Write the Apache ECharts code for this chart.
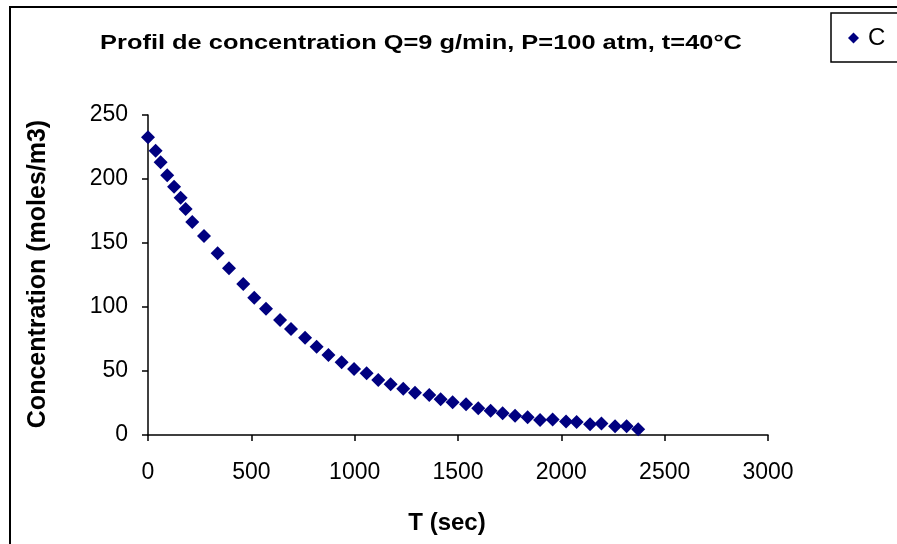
<!DOCTYPE html>
<html>
<head>
<meta charset="utf-8">
<script src="https://cdn.jsdelivr.net/npm/echarts@6/dist/echarts.min.js"></script>
<style>
html,body{margin:0;padding:0;background:#fff;}
#chart{width:897px;height:544px;}
</style>
</head>
<body>
<div id="chart"></div>
<script>
// Data
var tSec = [0,37,61,93,126,158,182,214,271,337,392,461,514,571,639,692,760,816,873,937,997,1058,1114,1174,1235,1292,1361,1416,1474,1539,1598,1658,1716,1776,1837,1897,1958,2023,2074,2139,2194,2260,2316,2372];
var conc = [232.6,222.1,213.0,202.9,194.0,185.4,176.6,166.4,155.5,142.0,130.2,118.0,107.3,98.7,89.8,82.8,76.0,69.0,62.5,56.8,51.6,48.2,43.0,39.6,36.2,33.0,31.3,27.9,25.5,24.0,20.9,19.0,17.0,15.1,13.8,11.7,12.1,10.5,10.2,8.4,9.0,6.8,6.8,4.5];
var seriesName = 'C';
var titleText = 'Profil de concentration Q=9 g/min, P=100 atm, t=40°C';
var xName = 'T (sec)';
var yName = 'Concentration (moles/m3)';

var points = tSec.map(function(t, i){ return [t, conc[i]]; });
var font = 'Arial, "Liberation Sans", sans-serif';

var chart = echarts.init(document.getElementById('chart'));
chart.setOption({
  animation: false,
  backgroundColor: '#fff',
  legend: {
    left: 831, top: 13,
    padding: [13, 60, 12, 17],
    borderColor: '#000', borderWidth: 1.5,
    backgroundColor: '#fff',
    itemWidth: 11, itemHeight: 11,
    textStyle: {fontFamily: font, fontSize: 24, color: '#000', padding: [0, 0, 0, 4]},
    data: [{name: seriesName, icon: 'diamond'}]
  },
  graphic: [{
    type: 'rect', silent: true, z: -1,
    shape: {x: 10, y: 7, width: 1000, height: 1000},
    style: {fill: 'none', stroke: '#000', lineWidth: 2}
  }, {
    type: 'text', silent: true,
    x: 421, y: 43, scaleX: 1.27,
    style: {text: titleText, font: 'bold 20px ' + font, fill: '#000', align: 'center', verticalAlign: 'middle'}
  }, {
    type: 'text', silent: true,
    x: 447, y: 523,
    style: {text: xName, font: 'bold 24px ' + font, fill: '#000', align: 'center', verticalAlign: 'middle'}
  }, {
    type: 'text', silent: true,
    x: 38, y: 274, rotation: Math.PI / 2,
    style: {text: yName, font: 'bold 25px ' + font, fill: '#000', align: 'center', verticalAlign: 'middle'}
  }],
  grid: {left: 148, right: 129, top: 115, bottom: 109},
  xAxis: {
    type: 'value', min: 0, max: 3000, interval: 500,
    axisLine: {lineStyle: {color: '#000', width: 1.5}},
    axisTick: {show: true, inside: false, length: 6, lineStyle: {color: '#000', width: 1.5}},
    axisLabel: {fontFamily: font, fontSize: 23, color: '#000', margin: 26, formatter: function(v){ return String(v); }},
    splitLine: {show: false}
  },
  yAxis: {
    type: 'value', min: 0, max: 250, interval: 50,
    axisLine: {show: true, lineStyle: {color: '#000', width: 1.5}},
    axisTick: {show: true, inside: false, length: 6, lineStyle: {color: '#000', width: 1.5}},
    axisLabel: {fontFamily: font, fontSize: 23, color: '#000', margin: 20, formatter: function(v){ return String(v); }},
    splitLine: {show: false}
  },
  series: [{
    name: seriesName, type: 'scatter',
    symbol: 'diamond', symbolSize: 14,
    itemStyle: {color: '#000080', opacity: 1},
    data: points
  }]
});
</script>
</body>
</html>
